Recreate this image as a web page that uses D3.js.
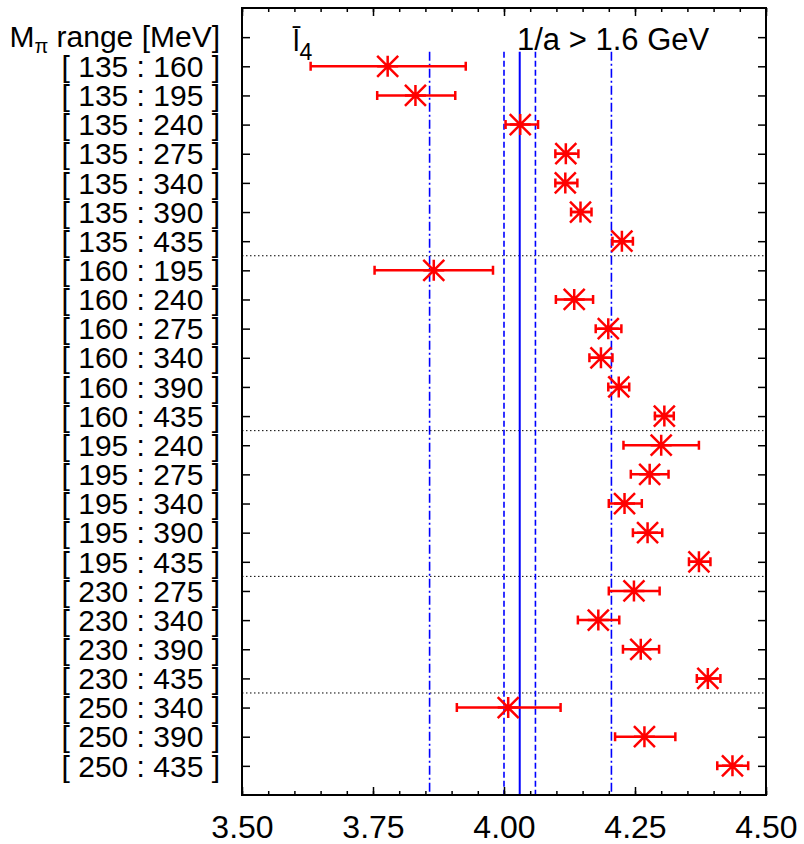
<!DOCTYPE html>
<html lang="en">
<head>
  <meta charset="utf-8">
  <title>l4 fit ranges</title>
  <script src="https://d3js.org/d3.v7.min.js"></script>
  <style>
    body { margin: 0; background: #fff; }
    svg text { font-family: "Liberation Sans", Arial, Helvetica, sans-serif; fill: #000; }
    .tick line { stroke: #000; stroke-width: 1.5; }
    .errbar { stroke: red; stroke-width: 2.5; fill: none; }
    .star { stroke: red; stroke-width: 2.5; fill: none; }
  </style>
</head>
<body>
<script>
  // rows, top to bottom (row 0 is the header)
  const rangeLabels = [
    "[ 135 : 160 ]", "[ 135 : 195 ]", "[ 135 : 240 ]", "[ 135 : 275 ]", "[ 135 : 340 ]", "[ 135 : 390 ]", "[ 135 : 435 ]",
    "[ 160 : 195 ]", "[ 160 : 240 ]", "[ 160 : 275 ]", "[ 160 : 340 ]", "[ 160 : 390 ]", "[ 160 : 435 ]",
    "[ 195 : 240 ]", "[ 195 : 275 ]", "[ 195 : 340 ]", "[ 195 : 390 ]", "[ 195 : 435 ]",
    "[ 230 : 275 ]", "[ 230 : 340 ]", "[ 230 : 390 ]", "[ 230 : 435 ]",
    "[ 250 : 340 ]", "[ 250 : 390 ]", "[ 250 : 435 ]"
  ];
  // l4 central value and error bar ends, same order as rangeLabels
  const l4Value = [3.778, 3.831, 4.031, 4.118, 4.117, 4.146, 4.225,
                   3.866, 4.134, 4.199, 4.185, 4.219, 4.306,
                   4.300, 4.278, 4.230, 4.274, 4.372,
                   4.248, 4.180, 4.261, 4.389,
                   4.008, 4.268, 4.436];
  const l4Low   = [3.631, 3.758, 4.003, 4.098, 4.098, 4.128, 4.207,
                   3.753, 4.099, 4.175, 4.163, 4.199, 4.288,
                   4.228, 4.242, 4.200, 4.246, 4.353,
                   4.200, 4.141, 4.227, 4.368,
                   3.910, 4.212, 4.407];
  const l4High  = [3.927, 3.907, 4.065, 4.142, 4.140, 4.167, 4.246,
                   3.979, 4.170, 4.224, 4.207, 4.239, 4.324,
                   4.372, 4.314, 4.263, 4.302, 4.394,
                   4.297, 4.220, 4.296, 4.413,
                   4.108, 4.327, 4.466];
  // group separators (between rows)
  const separators = [7.5, 13.5, 18.5, 22.5];
  // final result: central, error band, total band
  const bandCentral = [4.03];
  const bandStat = [4.00, 4.06];
  const bandTotal = [3.858, 4.205];
  const majorTicks = [3.50, 3.75, 4.00, 4.25, 4.50];
  const minorTicks = d3.range(0, 21).map(i => 3.5 + i * 0.05);

  const width = 804, height = 844;
  const svg = d3.select("body").append("svg")
    .attr("width", width)
    .attr("height", height);

  const x = d3.scaleLinear().domain([3.5, 4.5]).range([242, 766]);
  const y = d3.scaleLinear().domain([-1, 26]).range([8, 795]);
  const rows = rangeLabels.map((label, i) => ({
    row: i + 1, label, v: l4Value[i], lo: l4Low[i], hi: l4High[i]
  }));

  // dotted separators
  svg.selectAll(".sep")
    .data(separators)
    .enter().append("line")
    .attr("x1", x(3.5)).attr("x2", x(4.5))
    .attr("y1", d => y(d)).attr("y2", d => y(d))
    .attr("stroke", "#000")
    .attr("stroke-width", 1)
    .attr("stroke-dasharray", "1.5,2.5");

  // vertical result lines
  const refTop = y(0.5), refBottom = y(26);
  svg.selectAll(".ref-total")
    .data(bandTotal)
    .enter().append("line")
    .attr("x1", d => x(d)).attr("x2", d => x(d))
    .attr("y1", refTop).attr("y2", refBottom)
    .attr("stroke", "blue").attr("stroke-width", 1.6)
    .attr("stroke-dasharray", "9,3,2,3");
  svg.selectAll(".ref-stat")
    .data(bandStat)
    .enter().append("line")
    .attr("x1", d => x(d)).attr("x2", d => x(d))
    .attr("y1", refTop).attr("y2", refBottom)
    .attr("stroke", "blue").attr("stroke-width", 1.6)
    .attr("stroke-dasharray", "6,3");
  svg.selectAll(".ref-central")
    .data(bandCentral)
    .enter().append("line")
    .attr("x1", d => x(d)).attr("x2", d => x(d))
    .attr("y1", refTop).attr("y2", refBottom)
    .attr("stroke", "blue").attr("stroke-width", 2);

  // error bars with caps
  svg.selectAll(".errbar")
    .data(rows)
    .enter().append("path")
    .attr("class", "errbar")
    .attr("d", d => {
      const yy = y(d.row), a = x(d.lo), b = x(d.hi);
      return `M${a},${yy}H${b}M${a},${yy - 4.5}V${yy + 4.5}M${b},${yy - 4.5}V${yy + 4.5}`;
    });

  // asterisk markers (+ and x)
  const s = 10.5;
  svg.selectAll(".star")
    .data(rows)
    .enter().append("path")
    .attr("class", "star")
    .attr("d", d => {
      const cx = x(d.v), cy = y(d.row);
      return `M${cx - s},${cy}H${cx + s}M${cx},${cy - s}V${cy + s}` +
             `M${cx - s},${cy - s}L${cx + s},${cy + s}M${cx - s},${cy + s}L${cx + s},${cy - s}`;
    });

  // axes
  const yTicks = d3.range(0, 26);
  svg.append("g")
    .attr("transform", `translate(${x(3.5)},0)`)
    .call(d3.axisLeft(y).tickValues(yTicks).tickSizeInner(-8).tickSizeOuter(0).tickPadding(22)
      .tickFormat(i => i === 0 ? "" : rangeLabels[i - 1]))
    .call(g => g.select(".domain").remove())
    .call(g => g.selectAll("text").attr("font-size", 30).attr("dy", "0.34em"));

  svg.append("g")
    .attr("transform", `translate(${x(4.5)},0)`)
    .call(d3.axisRight(y).tickValues(yTicks).tickSizeInner(-8).tickSizeOuter(0).tickFormat(""))
    .call(g => g.select(".domain").remove());

  svg.append("g")
    .attr("transform", `translate(0,${y(26)})`)
    .call(d3.axisBottom(x).tickValues(minorTicks).tickSizeInner(-4).tickSizeOuter(0).tickFormat(""))
    .call(g => g.select(".domain").remove());
  svg.append("g")
    .attr("transform", `translate(0,${y(26)})`)
    .call(d3.axisBottom(x).tickValues(majorTicks).tickSizeInner(-8).tickSizeOuter(0).tickPadding(20)
      .tickFormat(d3.format(".2f")))
    .call(g => g.select(".domain").remove())
    .call(g => g.selectAll("text").attr("font-size", 32));

  svg.append("g")
    .attr("transform", `translate(0,${y(-1)})`)
    .call(d3.axisTop(x).tickValues(minorTicks).tickSizeInner(-4).tickSizeOuter(0).tickFormat(""))
    .call(g => g.select(".domain").remove());
  svg.append("g")
    .attr("transform", `translate(0,${y(-1)})`)
    .call(d3.axisTop(x).tickValues(majorTicks).tickSizeInner(-8).tickSizeOuter(0).tickFormat(""))
    .call(g => g.select(".domain").remove());

  // frame
  svg.append("rect")
    .attr("x", x(3.5)).attr("y", y(-1))
    .attr("width", x(4.5) - x(3.5)).attr("height", y(26) - y(-1))
    .attr("fill", "none").attr("stroke", "#000").attr("stroke-width", 2);

  // header of the row labels
  const head = svg.append("text")
    .attr("x", x(3.5) - 22)
    .attr("y", y(0))
    .attr("dy", "0.33em")
    .attr("text-anchor", "end")
    .attr("font-size", 30);
  head.append("tspan").text("M");
  head.append("tspan").attr("font-size", 20).attr("dy", 6).text("π");
  head.append("tspan").attr("dy", -6).text(" range [MeV]");

  // panel labels
  const lab = svg.append("text")
    .attr("x", 293)
    .attr("y", 51)
    .attr("font-size", 29);
  lab.append("tspan").text("l\u0304");
  lab.append("tspan").attr("font-size", 23).attr("dy", 9).text("4");

  svg.append("text")
    .attr("x", 517)
    .attr("y", 50)
    .attr("font-size", 31)
    .text("1/a > 1.6 GeV");
</script>
</body>
</html>
